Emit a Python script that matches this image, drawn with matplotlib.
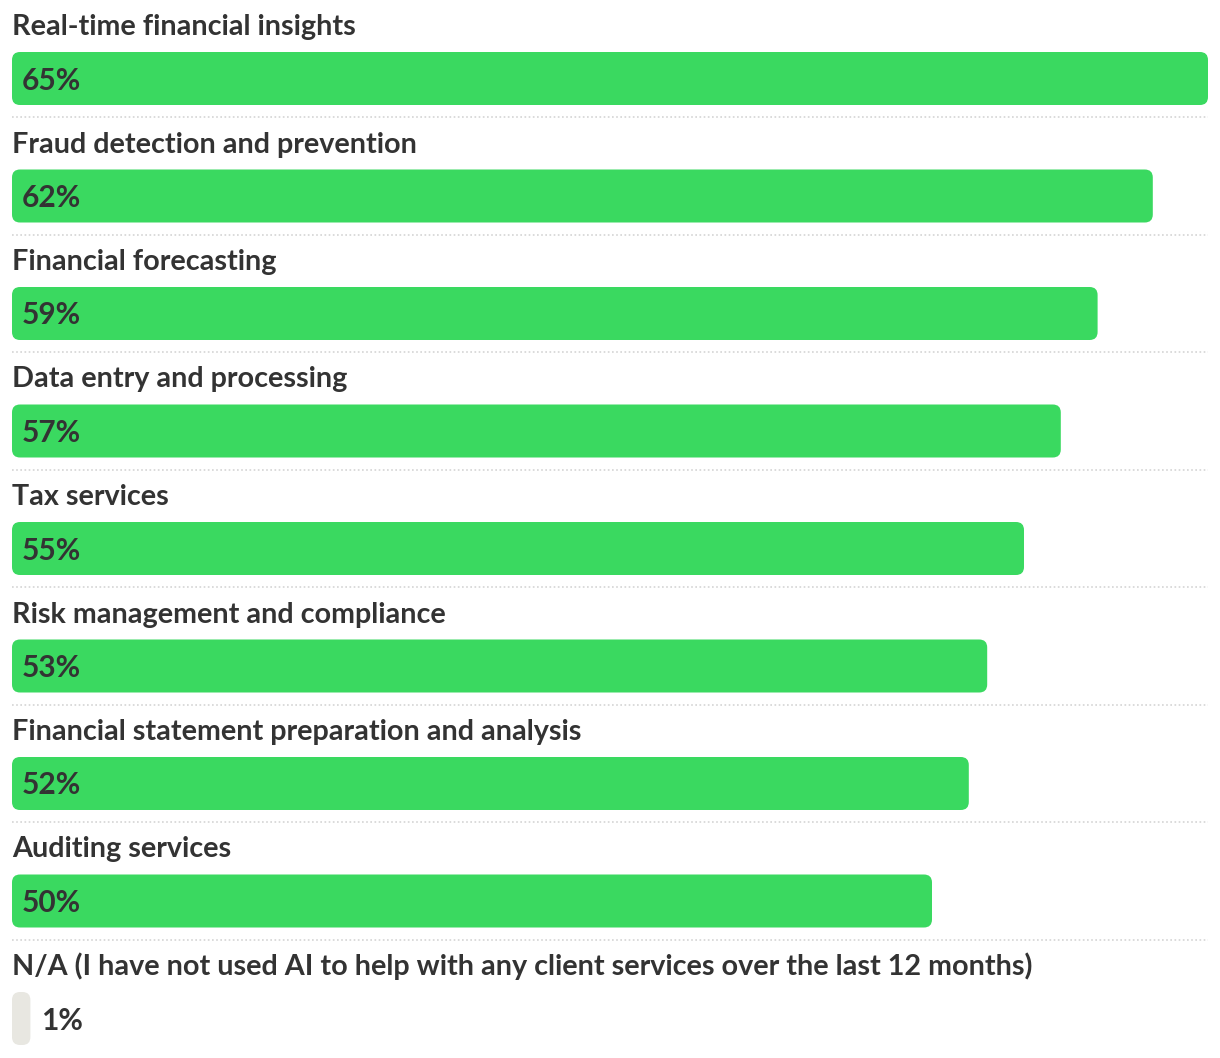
import matplotlib.pyplot as plt
from matplotlib.patches import FancyBboxPatch

categories = [
    "Real-time financial insights",
    "Fraud detection and prevention",
    "Financial forecasting",
    "Data entry and processing",
    "Tax services",
    "Risk management and compliance",
    "Financial statement preparation and analysis",
    "Auditing services",
    "N/A (I have not used AI to help with any client services over the last 12 months)",
]
values = [65, 62, 59, 57, 55, 53, 52, 50, 1]

GREEN = "#3ad960"
GRAY = "#e8e7e1"
TEXT = "#333333"

W, H = 1220, 1058
LEFT, RIGHT = 12, 1208          # pixel extent of the largest bar
PITCH = 117.5                   # row height in pixels
BAR_H = 53
BAR_TOP0 = 52

plt.rcParams['font.family'] = ['Lato', 'DejaVu Sans']

fig = plt.figure(figsize=(W / 100, H / 100), dpi=100)
ax = fig.add_axes([0, 0, 1, 1])
vmax = max(values)
px_per_unit = (RIGHT - LEFT) / vmax
ax.set_xlim(-LEFT / px_per_unit, (W - LEFT) / px_per_unit)
ax.set_ylim(H, 0)
ax.axis('off')

radius = 8
for i, (cat, val) in enumerate(zip(categories, values)):
    top = BAR_TOP0 + i * PITCH
    color = GRAY if cat.startswith("N/A") else GREEN
    bar = FancyBboxPatch((0, top), val, BAR_H,
                         boxstyle=f"round,pad=0,rounding_size={radius / px_per_unit}",
                         mutation_aspect=px_per_unit,
                         facecolor=color, edgecolor='none')
    ax.add_patch(bar)

    ax.text(0, top - 17, cat, fontsize=20.7, fontweight='bold', color=TEXT,
            ha='left', va='baseline')

    # label inside the bar, or just to its right when the bar is too short
    label_x = 10 / px_per_unit if val > 5 else val + 11 / px_per_unit
    ax.text(label_x, top + BAR_H / 2 + 2, f"{val}%", fontsize=21.5, fontweight='bold',
            color=TEXT, ha='left', va='center')

    if i < len(categories) - 1:
        sep_y = top + BAR_H + 12
        ax.plot([0, vmax], [sep_y, sep_y], color='#d4d4d4', linewidth=1.2,
                linestyle=(0, (1, 1.5)))

fig.savefig('out.png', dpi=100)
